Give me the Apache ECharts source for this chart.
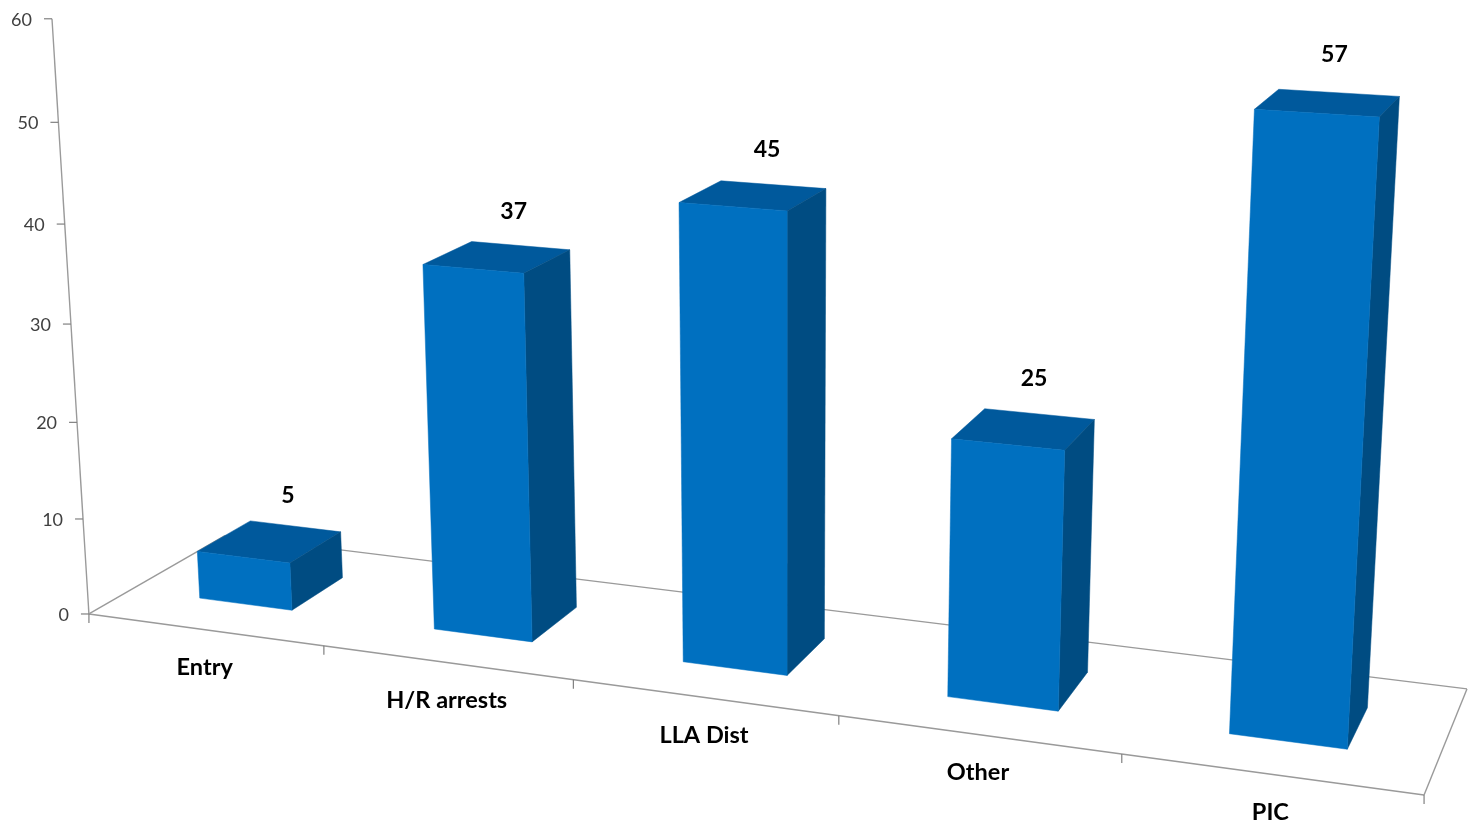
<!DOCTYPE html>
<html><head><meta charset="utf-8">
<style>html,body{margin:0;padding:0;background:#fff}#c{width:1475px;height:820px}</style>
<script src="https://cdn.jsdelivr.net/npm/echarts@6/dist/echarts.min.js"></script>
</head><body><div id="c"></div>
<script>
const categories = ['Entry', 'H/R arrests', 'LLA Dist', 'Other', 'PIC'];
const values = [5, 37, 45, 25, 57];
const yTicks = [0, 10, 20, 30, 40, 50, 60];

// flat grid that the library's scales map into
const G = { left: 100, top: 50, width: 1000, height: 600 };
const gb = G.top + G.height, gr = G.left + G.width;
const barFrac = 0.4, d0 = 0.3, d1 = 0.7, labelDepth = 0.7, labelLift = 34, labelDx = -6;

// camera calibration (least squares): grid plane + depth -> picture
const S = 1000; // model scale for conditioning
const band = G.width / categories.length;
const mx = (i, side) => G.left + band * (i + 0.5) + side * band * barFrac / 2;
const my = v => gb - v * G.height / 60;
const calib = [
  // model X, Y, depth, picture u, v, weight
  [G.left, gb, 0, 89, 614, 6], [gr, gb, 0, 1424, 795, 6],
  [gr, gb, 1, 1467, 689, 6], [G.left, gb, 1, 225, 535.5, 6],
  [G.left, my(60), 0, 52, 19.5, 2], [G.left, my(50), 0, 58, 122, 1],
  [G.left, my(40), 0, 64, 224, 1], [G.left, my(30), 0, 70, 324, 1],
  [G.left, my(20), 0, 76, 422, 1], [G.left, my(10), 0, 82, 519, 1],
  [mx(4, -1), my(57), d0, 1255, 109, 2], [mx(4, 1), my(57), d0, 1380, 116, 2],
  [mx(4, 1), my(57), d1, 1398, 97, 2], [mx(2, -1), my(45), d0, 681, 203, 1],
  [mx(2, 1), my(45), d1, 826, 188, 1], [mx(3, -1), my(25), d0, 952, 439, 1],
  [mx(1, -1), my(37), d0, 424, 265, 1], [mx(0, -1), my(5), d0, 197, 552, 1]
];

function solve(A, b) {
  const n = b.length, M = A.map((r, i) => r.concat(b[i]));
  for (let c = 0; c < n; c++) {
    let p = c;
    for (let r = c + 1; r < n; r++) if (Math.abs(M[r][c]) > Math.abs(M[p][c])) p = r;
    [M[c], M[p]] = [M[p], M[c]];
    for (let r = 0; r < n; r++) {
      if (r === c) continue;
      const f = M[r][c] / M[c][c];
      for (let k = c; k <= n; k++) M[r][k] -= f * M[c][k];
    }
  }
  return M.map((r, i) => r[n] / r[i]);
}
const N = Array.from({ length: 11 }, () => new Array(11).fill(0)), R = new Array(11).fill(0);
function addRow(row, rhs, w) {
  for (let i = 0; i < 11; i++) {
    R[i] += w * w * row[i] * rhs;
    for (let j = 0; j < 11; j++) N[i][j] += w * w * row[i] * row[j];
  }
}
calib.forEach(([X0, Y0, Z, u, v, w]) => {
  const X = X0 / S, Y = Y0 / S;
  addRow([X, Y, Z, 1, 0, 0, 0, 0, -u * X, -u * Y, -u * Z], u, w);
  addRow([0, 0, 0, 0, X, Y, Z, 1, -v * X, -v * Y, -v * Z], v, w);
});
const P = solve(N, R);
function proj(X0, Y0, Z) {
  const X = X0 / S, Y = Y0 / S;
  const w = P[8] * X + P[9] * Y + P[10] * Z + 1;
  return [(P[0] * X + P[1] * Y + P[2] * Z + P[3]) / w, (P[4] * X + P[5] * Y + P[6] * Z + P[7]) / w];
}

const cFront = '#0070C0', cTop = '#00599C', cSide = '#004C82', cLine = '#9A9A9A', cTick = '#808080';

function poly(points, fill) {
  return { type: 'polygon', shape: { points }, style: { fill, stroke: fill, lineWidth: 0.5 } };
}
function seg(a, b, stroke, w) {
  return { type: 'line', shape: { x1: a[0], y1: a[1], x2: b[0], y2: b[1] }, style: { stroke, lineWidth: w || 1.4 } };
}

function renderFrame(params, api) {
  const w = api.size([1, 0])[0];
  const c0 = api.coord([0, 0]), top = api.coord([0, 60]);
  const L = c0[0] - w / 2, Rt = L + w * categories.length, Y0 = c0[1];
  const kids = [
    seg(proj(L, Y0, 0), proj(Rt, Y0, 0), cLine), seg(proj(Rt, Y0, 0), proj(Rt, Y0, 1), cLine),
    seg(proj(Rt, Y0, 1), proj(L, Y0, 1), cLine), seg(proj(L, Y0, 1), proj(L, Y0, 0), cLine),
    seg(proj(L, Y0, 0), proj(L, top[1], 0), cLine)
  ];
  for (let i = 0; i <= categories.length; i++) {
    const a = proj(L + w * i, Y0, 0);
    kids.push(seg(a, [a[0], a[1] + 9], cTick, 1.2));
  }
  yTicks.forEach(t => {
    const a = proj(L, api.coord([0, t])[1], 0);
    kids.push(seg(a, [a[0] - 8, a[1]], cTick, 1.2));
    kids.push({ type: 'text', style: { text: String(t), x: a[0] - 20, y: a[1] + 1, align: 'right', verticalAlign: 'middle', fill: '#404040', font: '18px Lato, sans-serif' } });
  });
  return { type: 'group', children: kids };
}

function renderBar(params, api) {
  const i = api.value(0), v = api.value(1);
  const c = api.coord([i, v]), b = api.coord([i, 0]), w = api.size([1, 0])[0];
  const x0 = c[0] - w * barFrac / 2, x1 = c[0] + w * barFrac / 2, yT = c[1], yB = b[1];
  const fbl = proj(x0, yB, d0), fbr = proj(x1, yB, d0), ftl = proj(x0, yT, d0), ftr = proj(x1, yT, d0);
  const bbr = proj(x1, yB, d1), btl = proj(x0, yT, d1), btr = proj(x1, yT, d1);
  const lab = proj(c[0], yT - labelLift, labelDepth), cat = proj(c[0], yB, 0);
  return {
    type: 'group', children: [
      poly([ftl, ftr, btr, btl], cTop),
      poly([fbr, bbr, btr, ftr], cSide),
      poly([fbl, fbr, ftr, ftl], cFront),
      { type: 'text', style: { text: String(v), x: lab[0] + labelDx, y: lab[1], align: 'center', verticalAlign: 'middle', fill: '#000', font: 'bold 23px Lato, sans-serif' } },
      { type: 'text', style: { text: categories[i], x: cat[0], y: cat[1] + 38, align: 'center', verticalAlign: 'middle', fill: '#000', font: 'bold 23.5px Lato, sans-serif' } }
    ]
  };
}

const chart = echarts.init(document.getElementById('c'), null, { renderer: 'canvas' });
chart.setOption({
  animation: false,
  backgroundColor: '#fff',
  grid: { left: G.left, top: G.top, width: G.width, height: G.height },
  xAxis: { type: 'category', data: categories, show: false },
  yAxis: { type: 'value', min: 0, max: 60, interval: 10, show: false },
  series: [
    { type: 'custom', name: 'frame', coordinateSystem: 'cartesian2d', clip: false, silent: true, data: [[0, 0]], renderItem: renderFrame, z: 1 },
    { type: 'custom', name: 'Count', coordinateSystem: 'cartesian2d', clip: false, data: values.map((v, i) => [i, v]), encode: { x: 0, y: 1 }, renderItem: renderBar, z: 2 }
  ]
});
</script></body></html>
